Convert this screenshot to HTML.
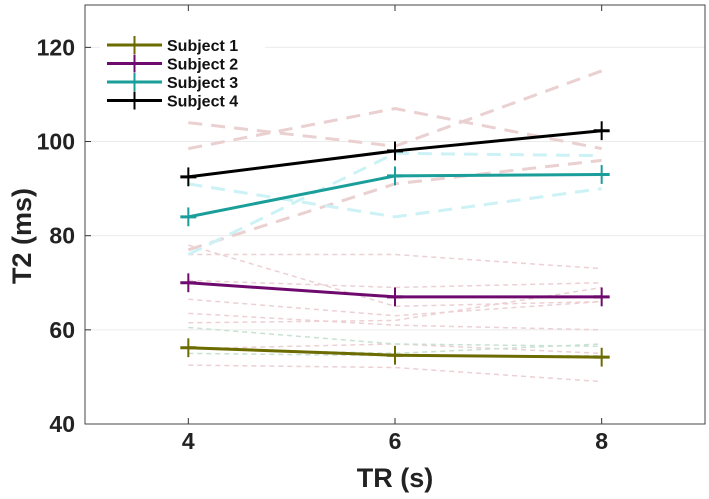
<!DOCTYPE html>
<html><head><meta charset="utf-8"><style>
body{margin:0;background:#fff;}
svg{display:block;font-family:"Liberation Sans Narrow","Liberation Sans",sans-serif;font-weight:bold;}
</style></head><body>
<svg id="chart" width="709" height="499" viewBox="0 0 709 499"></svg>
<script>
const xValues=[4,6,8];
const xTicks=[4,6,8];
const yTicks=[40,60,80,100,120];
const seriesNames=["Subject 1","Subject 2","Subject 3","Subject 4"];
const seriesColors=["#6b6b00","#6e0a6e","#1a9e9a","#000000"];
const s1=[56.2,54.6,54.2];
const s2=[70,67,67];
const s3=[84,92.7,93];
const s4=[92.5,98,102.3];
const errHalf=[2,2,2];
const faintPinkLarge=[[98.5,107,98.5],[104,99,115],[77,91,96]];
const faintCyanLarge=[[91,84,90],[76,97.5,97]];
const faintPinkSmall=[[76,76,73],[70.5,69,70],[66.5,63,66],[61.5,62,69],[52.5,52,49],[78,65,66],[63.5,61,60],[56,57,55]];
const faintGreenSmall=[[60.5,57,56.5],[56,55,57],[55,54.5,54.5]];

const L=85,R=705,T=5,B=424,xMin=3,xMax=9,yMin=40,yMax=129;
const sx=v=>L+(v-xMin)/(xMax-xMin)*(R-L);
const sy=v=>B-(v-yMin)/(yMax-yMin)*(B-T);
const svg=document.getElementById('chart');
const NS='http://www.w3.org/2000/svg';
function mk(tag,attrs,parent){const e=document.createElementNS(NS,tag);for(const k in attrs)e.setAttribute(k,attrs[k]);(parent||svg).appendChild(e);return e;}

yTicks.forEach(t=>{
 const g=mk('line',{x1:L,x2:R,y1:sy(t),y2:sy(t),stroke:'#ebebeb','stroke-width':1});
 
 
 const tk=mk('line',{x1:L,x2:L+6,y1:sy(t),y2:sy(t),stroke:'#333'});
 
 
 const tx=mk('text',{x:L-10,y:sy(t)+8,'text-anchor':'end','font-size':23,fill:'#222'});
 tx.textContent=t;
 
 
});
xTicks.forEach(t=>{
 const tk=mk('line',{x1:sx(t),x2:sx(t),y1:B,y2:B-6,stroke:'#333'});
 
 
 const tk2=mk('line',{x1:sx(t),x2:sx(t),y1:T,y2:T+6,stroke:'#333'});
 
 
 const tx=mk('text',{x:sx(t),y:B+25,'text-anchor':'middle','font-size':23,fill:'#222'});
 tx.textContent=t;
 
 
});
const box=mk('rect',{x:L,y:T,width:R-L,height:B-T,fill:'none',stroke:'#444','stroke-width':1});



function poly(vals,attrs,name){
 const p=mk('polyline',Object.assign({points:vals.map((v,i)=>sx(xValues[i])+','+sy(v)).join(' '),fill:'none'},attrs));
 
 
 return p;
}
faintPinkSmall.forEach(s=>poly(s,{stroke:'#ecd0d4','stroke-width':1.5,'stroke-dasharray':'5 4'},'individual-trace-pink'));
faintGreenSmall.forEach(s=>poly(s,{stroke:'#c8e2d2','stroke-width':1.5,'stroke-dasharray':'5 4'},'individual-trace-green'));
faintPinkLarge.forEach(s=>poly(s,{stroke:'#ead0d0','stroke-width':3,'stroke-dasharray':'14 9'},'individual-trace-pink-large'));
faintCyanLarge.forEach(s=>poly(s,{stroke:'#ccf2f6','stroke-width':3,'stroke-dasharray':'14 9'},'individual-trace-cyan-large'));

[s1,s2,s3,s4].forEach((s,k)=>{
 poly(s,{stroke:seriesColors[k],'stroke-width':3},'series-line-subject-'+(k+1));
 s.forEach((v,i)=>{
  const x=sx(xValues[i]);
  const e=mk('line',{x1:x,x2:x,y1:sy(v+errHalf[i]),y2:sy(v-errHalf[i]),stroke:seriesColors[k],'stroke-width':2});
  
  
  const h=mk('line',{x1:x-8,x2:x+8,y1:sy(v),y2:sy(v),stroke:seriesColors[k],'stroke-width':3});
  
  
 });
});

const lg=mk('g',{});


mk('rect',{x:100,y:30,width:165,height:82,fill:'#fff'},lg);
seriesNames.forEach((n,k)=>{
 const y=45+k*18.5;
 const g=mk('g',{},lg);
 
 
 mk('line',{x1:107,x2:162,y1:y,y2:y,stroke:seriesColors[k],'stroke-width':3},g);
 mk('line',{x1:134.5,x2:134.5,y1:y-9,y2:y+9,stroke:seriesColors[k],'stroke-width':2},g);
 const t=mk('text',{x:167,y:y+6,'font-size':16,fill:'#111'},g);
 t.textContent=n;
});

const xl=mk('text',{x:395,y:487,'text-anchor':'middle','font-size':27,fill:'#222'});
xl.textContent='TR (s)';


const yl=mk('text',{x:0,y:0,'text-anchor':'middle','font-size':27,fill:'#222',transform:'translate(31,236) rotate(-90)'});
yl.textContent='T2 (ms)';


</script>
</body></html>
